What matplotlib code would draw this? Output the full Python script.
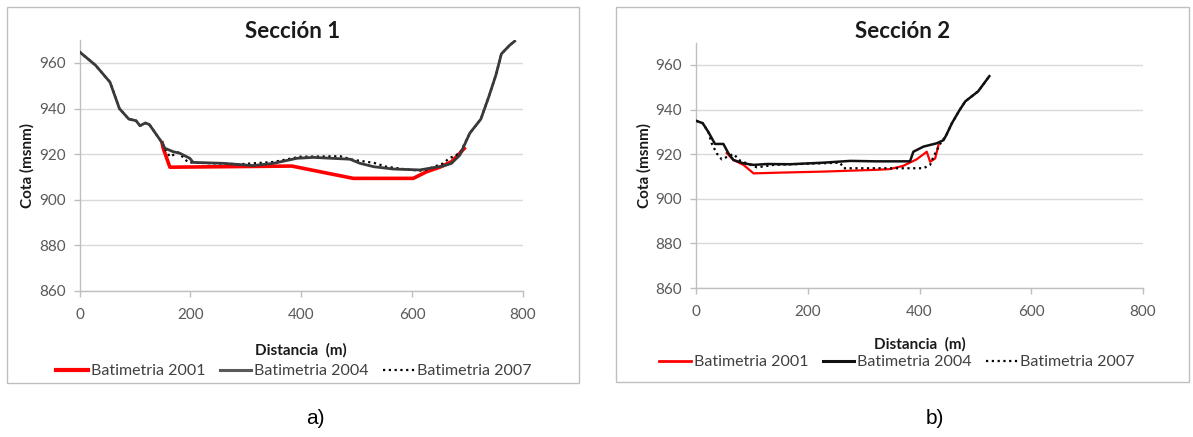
import matplotlib
matplotlib.use("Agg")
import matplotlib.pyplot as plt
from matplotlib.patches import Rectangle
from matplotlib.lines import Line2D

# ---------------- data ----------------
# Sección 1
s1_2004_x = [0, 29, 55, 72, 89, 102, 109, 119, 126, 133, 149, 154, 169, 181, 199, 205, 259, 313,
             350, 392, 422, 488, 506, 531, 566, 614, 638, 656, 671, 686, 704, 724, 738, 751, 761, 776, 785]
s1_2004_y = [964.9, 959, 951.6, 940, 935.4, 934.7, 932.5, 933.7, 933, 930.6, 925, 922.6, 921.1, 920.4,
             918.2, 916.4, 916, 915, 916, 918.2, 918.6, 917.8, 916, 914.5, 913.5, 913.1, 914.1, 914.8,
             916, 919.6, 929.2, 935.4, 945, 954.6, 964, 967.8, 969.6]
s1_2001_x = [149, 151, 163, 383, 434, 494, 602, 626, 650, 671, 686, 694]
s1_2001_y = [925, 922.6, 914.3, 914.8, 912.3, 909.4, 909.4, 912.3, 914.3, 916.7, 920.4, 922.5]
s1_2007_x = [0, 29, 55, 72, 89, 102, 109, 119, 126, 133, 149, 156, 163, 178, 196, 217, 290, 350,
             398, 470, 494, 531, 554, 590, 620, 656, 667, 686, 704, 724, 738, 751, 761, 776, 785]
s1_2007_y = [964.9, 959, 951.6, 940, 935.4, 934.7, 932.5, 933.7, 933, 930.6, 925, 921.5, 918.9, 920.8,
             916.4, 916.2, 915.6, 916.6, 918.9, 919.1, 917.5, 916.2, 914.5, 913.3, 912.7, 916, 918.2,
             920.4, 929.2, 935.4, 945, 954.6, 964, 967.8, 969.6]

# Sección 2
s2_2004_x = [0, 12, 22, 34, 49, 58, 67, 85, 103, 127, 168, 228, 276, 323, 383, 389, 407, 431, 443,
             448, 458, 472, 482, 505, 525]
s2_2004_y = [935, 933.9, 930, 924.6, 924.6, 920.4, 917.4, 915.9, 915.2, 915.6, 915.5, 916.2, 917,
             916.8, 916.8, 921.1, 923.4, 924.9, 926.3, 928.6, 933.9, 939.9, 943.7, 948.2, 955]
s2_2001_x = [55, 67, 85, 103, 144, 228, 323, 347, 371, 395, 413, 419, 428, 434]
s2_2001_y = [920.5, 917.4, 915.2, 911.4, 911.7, 912.2, 913, 913.3, 914.8, 917.7, 921.1, 916.6, 918.1, 924.1]
s2_2007_x = [0, 12, 22, 28, 37, 46, 67, 79, 109, 139, 258, 264, 347, 407, 419, 425, 437, 448, 458,
             472, 482, 505, 525]
s2_2007_y = [935, 933.9, 930, 924.9, 920.4, 917.7, 920.1, 917.1, 914.1, 915.2, 916.2, 913.7, 913.7,
             913.7, 915.2, 918.9, 924.6, 928.6, 933.9, 939.9, 943.7, 948.2, 955]

titles = ["Sección 1", "Sección 2"]
series_labels = ["Batimetria 2001", "Batimetria 2004", "Batimetria 2007"]
x_ticks = [0, 200, 400, 600, 800]
y_ticks = [860, 880, 900, 920, 940, 960]
panel_tags = ["a)", "b)"]

# ---------------- figure ----------------
W, H = 1193, 437
fig = plt.figure(figsize=(W / 100, H / 100), dpi=100)
FONT = ["Lato", "DejaVu Sans"]
plt.rcParams["font.family"] = FONT

def fx(px):
    return px / W

def fy(py):
    return 1 - py / H

# frames
for (x0, y0, x1, y1) in [(7, 7, 579, 383), (616, 7, 1189, 382)]:
    fig.patches.append(Rectangle((fx(x0), fy(y1)), fx(x1) - fx(x0), fy(y0) - fy(y1),
                                 transform=fig.transFigure, fill=False,
                                 edgecolor="#bfbfbf", linewidth=1.0))

axes_px = [(79.5, 40.2, 523, 291), (696, 42.7, 1143, 288)]
red = "#ff0000"
styles = [
    dict(c2004="#3a3a3a", lw2001=2.6, lw2004=2.0, leg2004="#595959"),
    dict(c2004="#111111", lw2001=1.6, lw2004=1.8, leg2004="#111111"),
]
data = [
    (s1_2001_x, s1_2001_y, s1_2004_x, s1_2004_y, s1_2007_x, s1_2007_y),
    (s2_2001_x, s2_2001_y, s2_2004_x, s2_2004_y, s2_2007_x, s2_2007_y),
]
title_pos = [(293, 32), (903, 32)]
legend_pos = [(294, 371), (897, 362)]
xlabel_y = [350, 344]
tag_pos = [(315, 418), (935, 418)]

for i in range(2):
    l, t, r, b = axes_px[i]
    ax = fig.add_axes([fx(l), fy(b), fx(r) - fx(l), fy(t) - fy(b)])
    x01, y01, x04, y04, x07, y07 = data[i]
    st = styles[i]
    ax.plot(x07, y07, color="#000000", lw=1.6, linestyle=(0, (1, 1.6)), zorder=3)
    ax.plot(x04, y04, color=st["c2004"], lw=st["lw2004"], zorder=4)
    ax.plot(x01, y01, color=red, lw=st["lw2001"], zorder=2)

    ax.set_xlim(0, 800)
    ax.set_ylim(860, 970)
    ax.set_xticks(x_ticks)
    ax.set_yticks(y_ticks)
    ax.grid(axis="y", color="#d9d9d9", lw=1.0)
    ax.set_axisbelow(True)
    for s in ["top", "right"]:
        ax.spines[s].set_visible(False)
    for s in ["left", "bottom"]:
        ax.spines[s].set_color("#bfbfbf")
        ax.spines[s].set_linewidth(1.0)
    ax.tick_params(axis="both", colors="#bfbfbf", labelcolor="#595959", labelsize=11,
                   length=4, width=1.0)
    ax.tick_params(axis="x", pad=8)
    ax.tick_params(axis="y", pad=6)
    ax.set_ylabel("Cota (msnm)", fontsize=11, fontweight="bold", color="#1a1a1a", labelpad=3)

    cx = (l + r) / 2
    fig.text(fx(cx), fy(xlabel_y[i]), "Distancia  (m)", ha="center", va="center",
             fontsize=11, fontweight="bold", color="#1a1a1a")
    fig.text(fx(title_pos[i][0]), fy(title_pos[i][1]), titles[i], ha="center", va="center",
             fontsize=16, fontweight="bold", color="#1a1a1a")

    handles = [
        Line2D([], [], color=red, lw=st["lw2001"] + 0.4),
        Line2D([], [], color=st["leg2004"], lw=2.2),
        Line2D([], [], color="#000000", lw=1.6, linestyle=(0, (1, 1.6))),
    ]
    leg = fig.legend(handles, series_labels, loc="center",
                     bbox_to_anchor=(fx(legend_pos[i][0]), fy(legend_pos[i][1])),
                     ncol=3, frameon=False, fontsize=11.5, handlelength=2.0,
                     handletextpad=0.15, columnspacing=0.9, borderaxespad=0)
    for txt in leg.get_texts():
        txt.set_color("#404040")

    fig.text(fx(tag_pos[i][0]), fy(tag_pos[i][1]), panel_tags[i], ha="center", va="center",
             fontsize=15, family=["Liberation Sans", "DejaVu Sans"], color="#000000")

fig.savefig("out.png", dpi=100, facecolor="white")
